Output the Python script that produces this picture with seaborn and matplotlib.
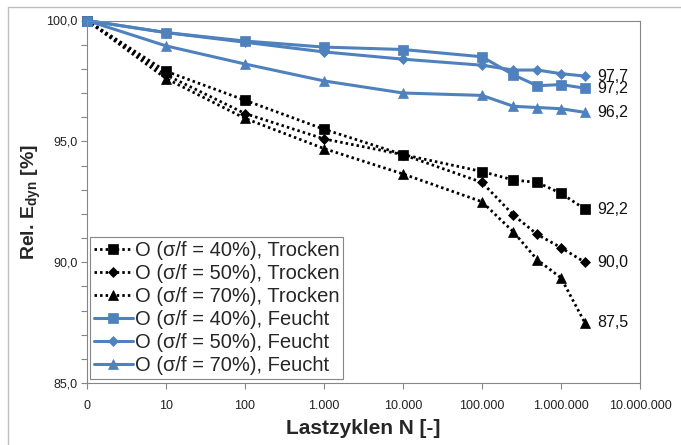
import numpy as np
import pandas as pd
import matplotlib
matplotlib.use("Agg")
import matplotlib.pyplot as plt
from matplotlib.lines import Line2D
from matplotlib.ticker import FixedLocator, NullLocator, MultipleLocator
import seaborn as sns

# ---- data ----
cycles = [0, 10, 100, 1000, 10000, 100000, 250000, 500000, 1000000, 2000000]
trocken_40 = [100, 97.9, 96.7, 95.5, 94.45, 93.75, 93.4, 93.3, 92.85, 92.2]
trocken_50 = [100, 97.75, 96.15, 95.1, 94.45, 93.3, 91.95, 91.15, 90.6, 90.0]
trocken_70 = [100, 97.6, 95.95, 94.7, 93.65, 92.5, 91.25, 90.1, 89.35, 87.5]
feucht_40 = [100, 99.5, 99.15, 98.9, 98.8, 98.5, 97.75, 97.3, 97.35, 97.2]
feucht_50 = [100, 99.5, 99.1, 98.7, 98.4, 98.15, 97.95, 97.95, 97.8, 97.7]
feucht_70 = [100, 98.95, 98.2, 97.5, 97.0, 96.9, 96.45, 96.4, 96.35, 96.2]

series_labels = ["O (σ/f = 40%), Trocken", "O (σ/f = 50%), Trocken", "O (σ/f = 70%), Trocken",
                 "O (σ/f = 40%), Feucht", "O (σ/f = 50%), Feucht", "O (σ/f = 70%), Feucht"]
x_ticks = [0, 10, 100, 1000, 10000, 100000, 1000000, 10000000]
x_ticklabels = ["0", "10", "100", "1.000", "10.000", "100.000", "1.000.000", "10.000.000"]
y_ticks = [85, 90, 95, 100]
y_ticklabels = ["85,0", "90,0", "95,0", "100,0"]

# ---- style ----
sns.set_theme(style="ticks")
plt.rcParams["font.family"] = ["Liberation Sans", "DejaVu Sans"]
plt.rcParams["mathtext.fontset"] = "custom"
plt.rcParams["mathtext.rm"] = "Liberation Sans"
plt.rcParams["mathtext.bf"] = "Liberation Sans:bold"

blue = "#4F81BD"
dot = (0, (0.9, 1.1))
styles = [
    dict(color="black", marker="s", ms=6.5, lw=2.0, ls=dot),
    dict(color="black", marker="D", ms=5.0, lw=2.0, ls=dot),
    dict(color="black", marker="^", ms=7.5, lw=2.0, ls=dot),
    dict(color=blue, marker="s", ms=6.5, lw=2.2, ls="-"),
    dict(color=blue, marker="D", ms=5.0, lw=2.2, ls="-"),
    dict(color=blue, marker="^", ms=7.5, lw=2.2, ls="-"),
]
all_series = [trocken_40, trocken_50, trocken_70, feucht_40, feucht_50, feucht_70]

fig = plt.figure(figsize=(6.81, 4.45), dpi=100)
ax = fig.add_axes([87/681, 1-383/445, (640-87)/681, (383-20.5)/445])

for vals, lab, st in zip(all_series, series_labels, styles):
    df = pd.DataFrame({"N": cycles, "E": vals})
    sns.lineplot(data=df, x="N", y="E", ax=ax, label=lab, color=st["color"],
                 marker=st["marker"], markersize=st["ms"], linewidth=st["lw"],
                 linestyle=st["ls"], markeredgecolor=st["color"], markeredgewidth=0.5,
                 clip_on=False)
    ax.annotate(f"{vals[-1]:.1f}".replace(".", ","), xy=(cycles[-1], vals[-1]),
                xytext=(9, 0), textcoords="offset points", va="center", ha="left",
                fontsize=11.5, color="#111111")

ax.set_xscale("symlog", linthresh=10, linscale=0.9)
ax.set_xlim(0, 1e7)
ax.set_ylim(85, 100)
ax.xaxis.set_major_locator(FixedLocator(x_ticks))
ax.xaxis.set_minor_locator(NullLocator())
ax.set_xticklabels(x_ticklabels)
ax.yaxis.set_major_locator(FixedLocator(y_ticks))
ax.yaxis.set_minor_locator(MultipleLocator(1))
ax.set_yticklabels(y_ticklabels)

ax.tick_params(axis="both", which="both", direction="out", length=4, width=0.8,
               color="#868686", labelsize=9, labelcolor="#222222")
ax.tick_params(axis="x", pad=8)
ax.tick_params(axis="y", pad=3)
for sp in ax.spines.values():
    sp.set_visible(True)
    sp.set_color("#868686")
    sp.set_linewidth(0.8)

ax.set_xlabel("Lastzyklen N [-]", fontsize=15, fontweight="bold")
ax.set_ylabel(r"Rel. E$_\mathbf{dyn}$ [%]", fontsize=14, fontweight="bold")
ax.xaxis.set_label_coords(0.5, -0.098)
ax.yaxis.set_label_coords(-0.08, 0.5)

leg = ax.legend(loc="lower left", bbox_to_anchor=(0.006, 0.01), fontsize=14.5,
                frameon=True, fancybox=False, edgecolor="#868686", framealpha=1,
                handlelength=1.9, handletextpad=0.1, borderpad=0.2,
                labelspacing=0.2, borderaxespad=0)
leg.get_frame().set_linewidth(0.8)

fig.add_artist(Line2D([8/681, 1], [1-7/445, 1-7/445], transform=fig.transFigure,
                      color="#BFBFBF", lw=1))
fig.add_artist(Line2D([8/681, 8/681], [0, 1-7/445], transform=fig.transFigure,
                      color="#BFBFBF", lw=1))

fig.savefig("out.png", dpi=100, facecolor="white")
